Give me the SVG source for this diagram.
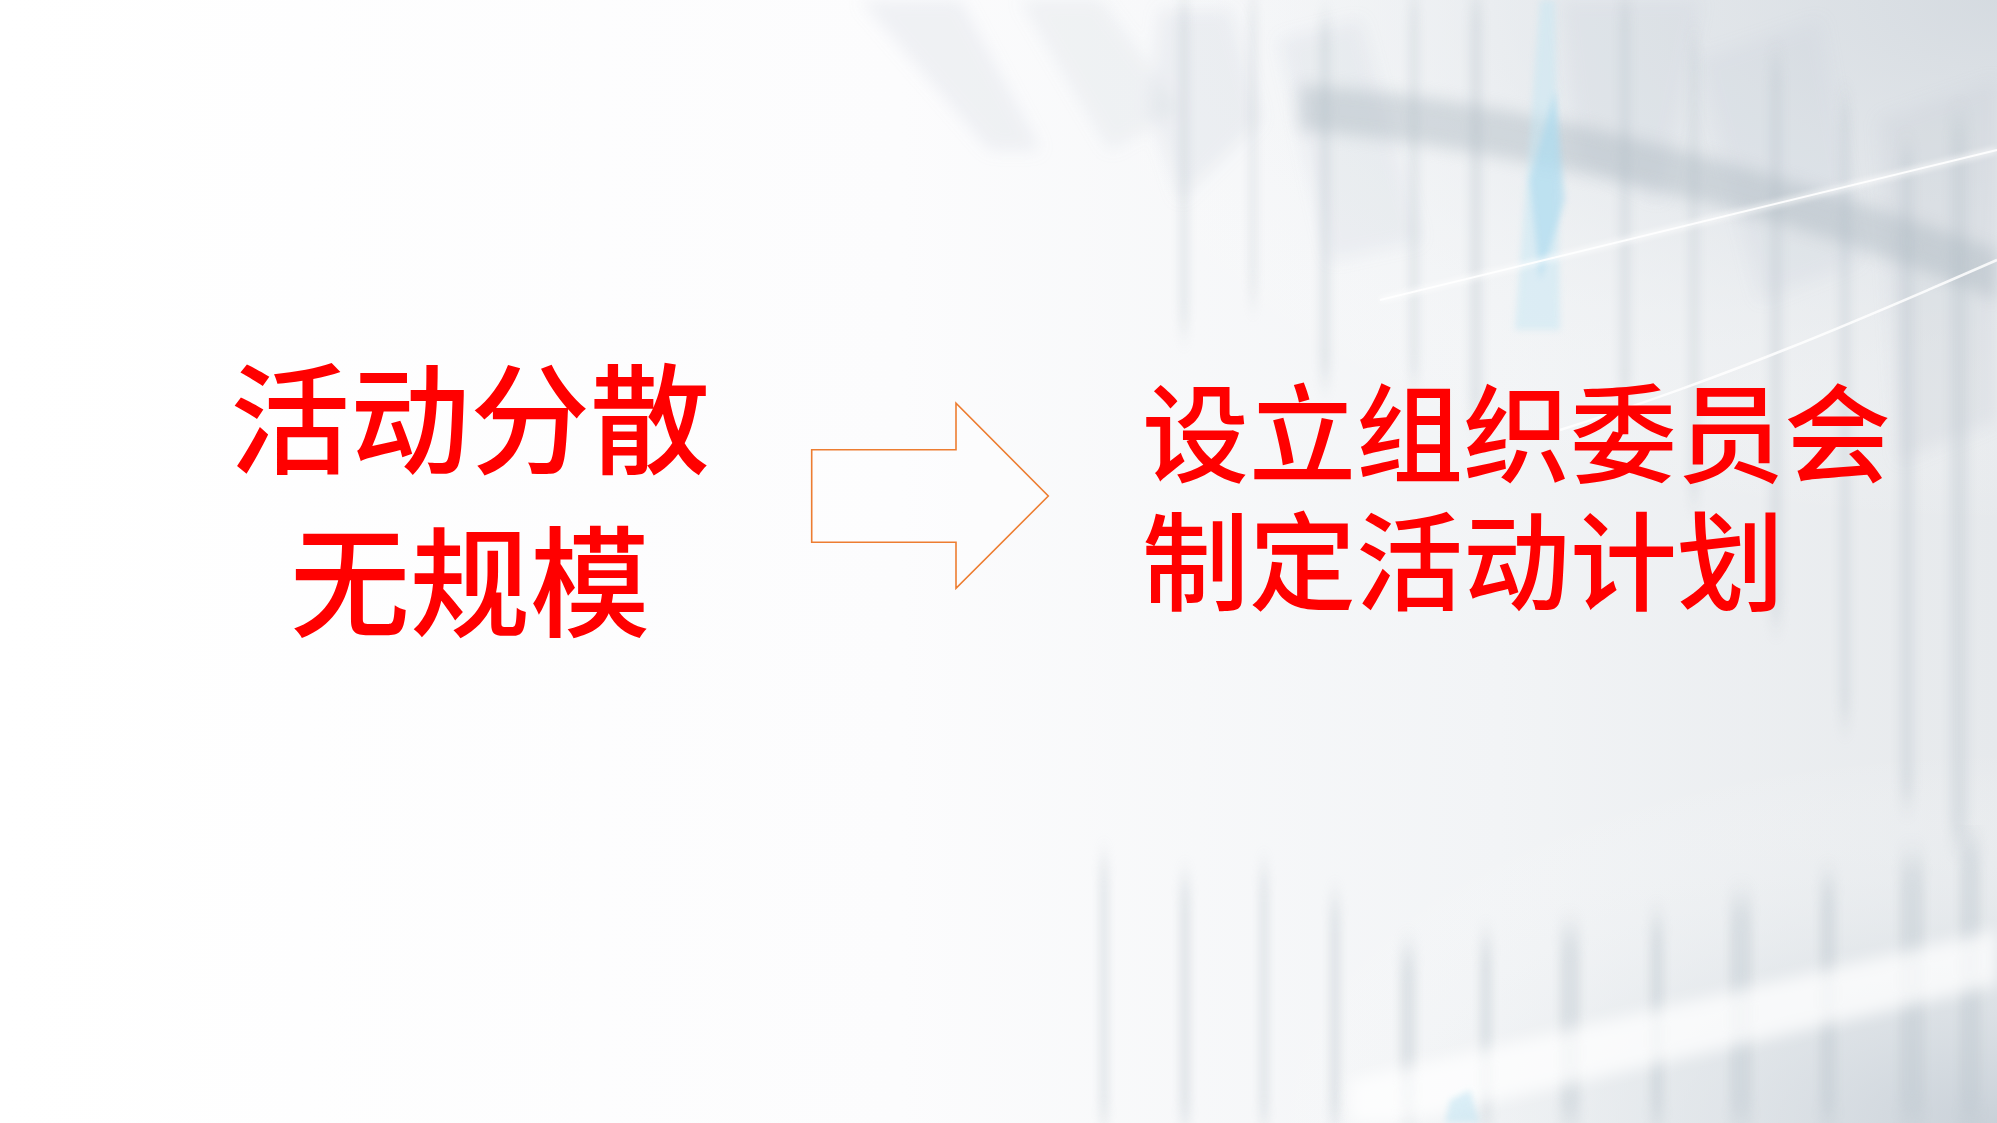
<svg xmlns="http://www.w3.org/2000/svg" width="1997" height="1123" viewBox="0 0 1997 1123">
  <defs>
    <style>
      .cn { font-family: "Noto Sans CJK SC", "Noto Sans CJK JP", sans-serif; fill: #FF0000; font-weight: 500; }
      .big { font-size: 120px; }
      .mid { font-size: 107px; }
      .arrow { fill: #FFFFFF; fill-opacity: 0.35; stroke: #ED7D31; stroke-width: 1.6; stroke-linejoin: miter; }
      .st { fill: #BCC6CE; }
    </style>
    <linearGradient id="bgH" x1="0" y1="0" x2="1" y2="0">
      <stop offset="0" stop-color="#FFFFFF"/>
      <stop offset="0.45" stop-color="#FCFCFD"/>
      <stop offset="0.75" stop-color="#F2F4F6"/>
      <stop offset="1" stop-color="#E6E9EC"/>
    </linearGradient>
    <radialGradient id="topR" cx="1" cy="0" r="0.75">
      <stop offset="0" stop-color="#D3D9DF" stop-opacity="0.9"/>
      <stop offset="0.5" stop-color="#E3E7EB" stop-opacity="0.6"/>
      <stop offset="1" stop-color="#FFFFFF" stop-opacity="0"/>
    </radialGradient>
    <radialGradient id="botR" cx="1" cy="1" r="0.65">
      <stop offset="0" stop-color="#C6CED6" stop-opacity="0.9"/>
      <stop offset="0.5" stop-color="#E0E5E9" stop-opacity="0.55"/>
      <stop offset="1" stop-color="#FFFFFF" stop-opacity="0"/>
    </radialGradient>
    <filter id="soft" x="-20%" y="-20%" width="140%" height="140%">
      <feGaussianBlur stdDeviation="8"/>
    </filter>
    <filter id="soft2" x="-20%" y="-20%" width="140%" height="140%">
      <feGaussianBlur stdDeviation="3"/>
    </filter>
    <filter id="soft3" x="-20%" y="-5%" width="140%" height="110%">
      <feGaussianBlur stdDeviation="5 14"/>
    </filter>
  </defs>

  <g id="background">
    <rect x="0" y="0" width="1997" height="1123" fill="url(#bgH)"/>
    <rect x="700" y="0" width="1297" height="700" fill="url(#topR)"/>
    <rect x="850" y="550" width="1147" height="573" fill="url(#botR)"/>
    <!-- glassy facets top -->
    <g filter="url(#soft)" fill="#C4CDD5">
      <polygon points="860,0 960,0 1040,150 990,150" opacity="0.22"/>
      <polygon points="1160,10 1230,10 1260,120 1180,200 1150,110" opacity="0.22"/>
      <polygon points="1280,40 1360,20 1420,240 1330,260" opacity="0.2"/>
      <polygon points="1560,0 1700,0 1660,200 1580,160" opacity="0.22"/>
      <polygon points="1700,60 1820,20 1860,260 1760,300" opacity="0.2"/>
      <polygon points="1880,120 1997,80 1997,420 1900,460" opacity="0.28"/>
      <polygon points="1020,0 1100,0 1180,110 1110,150" opacity="0.18"/>
    </g>
    <!-- vertical streak texture top right -->
    <g filter="url(#soft3)" opacity="0.35">
      <rect class="st" x="1180" y="0" width="8" height="330"/>
      <rect class="st" x="1250" y="0" width="6" height="300"/>
      <rect class="st" x="1320" y="20" width="10" height="360"/>
      <rect class="st" x="1410" y="0" width="8" height="380"/>
      <rect class="st" x="1470" y="0" width="12" height="420"/>
      <rect class="st" x="1620" y="0" width="10" height="400"/>
      <rect class="st" x="1690" y="40" width="8" height="460"/>
      <rect class="st" x="1770" y="60" width="12" height="560"/>
      <rect class="st" x="1840" y="100" width="10" height="620"/>
      <rect class="st" x="1900" y="150" width="14" height="650"/>
      <rect class="st" x="1950" y="120" width="18" height="720"/>
    </g>
    <!-- dark band -->
    <path d="M1300,85 C1500,95 1750,160 1997,250 L1997,300 C1780,210 1520,150 1300,130 Z" fill="#A9B5BE" opacity="0.42" filter="url(#soft)"/>
    <!-- cyan streak -->
    <polygon points="1540,0 1555,0 1560,330 1515,330" fill="#C5E6F3" opacity="0.5" filter="url(#soft2)"/>
    <polygon points="1555,90 1565,200 1540,280 1530,180" fill="#A6D8EE" opacity="0.55" filter="url(#soft2)"/>
    <!-- bright lines -->
    <path d="M1380,300 C1550,260 1750,210 1997,150" stroke="#FFFFFF" stroke-width="4" fill="none" opacity="0.9" filter="url(#soft2)"/>
    <path d="M1380,300 C1550,260 1750,210 1997,150" stroke="#FFFFFF" stroke-width="2" fill="none" opacity="0.9"/>
    <path d="M1560,430 C1720,380 1860,320 1997,260" stroke="#FFFFFF" stroke-width="2.5" fill="none" opacity="0.85"/>
    <!-- bottom right streaks -->
    <g opacity="0.4" filter="url(#soft3)">
      <rect class="st" x="1100" y="860" width="8" height="263"/>
      <rect class="st" x="1180" y="880" width="10" height="243"/>
      <rect class="st" x="1260" y="870" width="8" height="253"/>
      <rect class="st" x="1330" y="900" width="10" height="223"/>
      <rect class="st" x="1400" y="950" width="16" height="173"/>
      <rect class="st" x="1480" y="940" width="12" height="183"/>
      <rect class="st" x="1560" y="930" width="20" height="193"/>
      <rect class="st" x="1650" y="920" width="14" height="203"/>
      <rect class="st" x="1730" y="900" width="22" height="223"/>
      <rect class="st" x="1820" y="880" width="16" height="243"/>
      <rect class="st" x="1900" y="860" width="24" height="263"/>
      <rect class="st" x="1960" y="840" width="20" height="283"/>
    </g>
    <polygon points="1350,1080 1997,930 1997,985 1400,1123 1350,1123" fill="#FFFFFF" opacity="0.75" filter="url(#soft)"/>
    <polygon points="1450,1100 1470,1090 1480,1123 1445,1123" fill="#BFE3F2" opacity="0.55" filter="url(#soft2)"/>
  </g>

  <g id="connectors">
    <g id="arrow-1">
      <polygon class="arrow" points="811.7,449.7 956,449.7 956,403.3 1048.3,496 956,588.3 956,542.3 811.7,542.3"/>
    </g>
  </g>

  <g id="node-left">
    <text class="cn big" x="470" y="465" text-anchor="middle">活动分散</text>
    <text class="cn big" x="470" y="628" text-anchor="middle">无规模</text>
  </g>

  <g id="node-right">
    <text class="cn mid" x="1142" y="474">设立组织委员会</text>
    <text class="cn mid" x="1142" y="602">制定活动计划</text>
  </g>
</svg>
